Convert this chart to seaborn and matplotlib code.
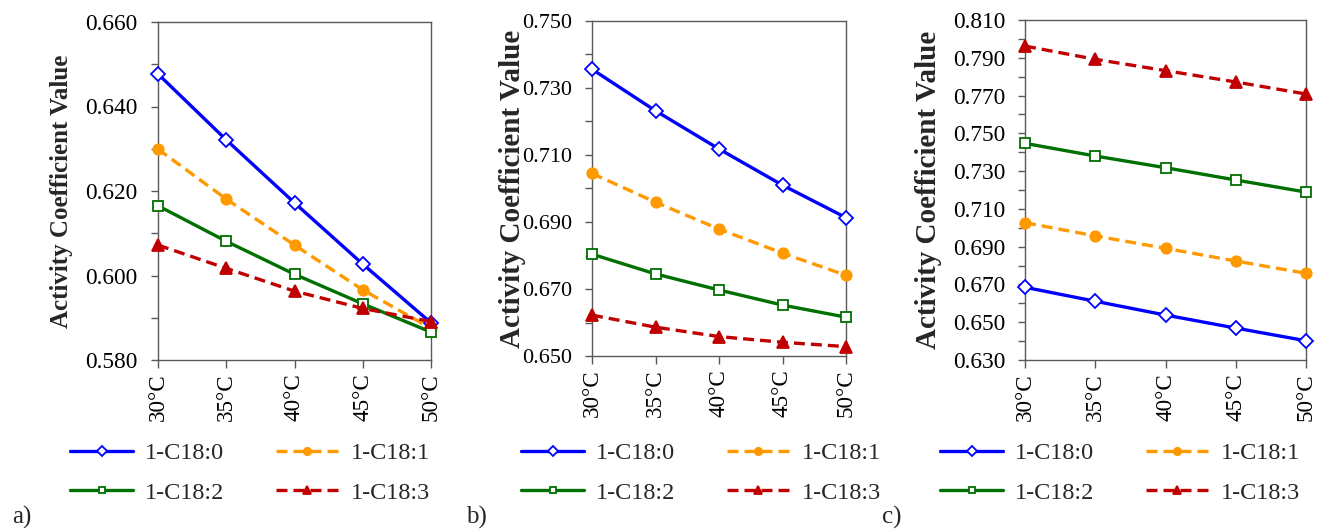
import numpy as np
import pandas as pd
import seaborn as sns
import matplotlib.pyplot as plt
from matplotlib.ticker import FixedLocator

temps = [30, 35, 40, 45, 50]
temp_labels = ["30°C", "35°C", "40°C", "45°C", "50°C"]
series_names = ["1-C18:0", "1-C18:1", "1-C18:2", "1-C18:3"]

# panel a)
a_c180 = [0.6477, 0.6321, 0.6172, 0.6027, 0.5888]
a_c181 = [0.6299, 0.6181, 0.6072, 0.5966, 0.5875]
a_c182 = [0.6165, 0.6081, 0.6003, 0.5933, 0.5866]
a_c183 = [0.6072, 0.6017, 0.5963, 0.5922, 0.5891]
# panel b)
b_c180 = [0.7356, 0.7232, 0.7118, 0.7010, 0.6913]
b_c181 = [0.7045, 0.6959, 0.6879, 0.6807, 0.6741]
b_c182 = [0.6804, 0.6745, 0.6697, 0.6652, 0.6616]
b_c183 = [0.6622, 0.6586, 0.6558, 0.6541, 0.6528]
# panel c)
c_c180 = [0.6685, 0.6611, 0.6538, 0.6469, 0.6402]
c_c181 = [0.7027, 0.6957, 0.6891, 0.6824, 0.6759]
c_c182 = [0.7447, 0.7380, 0.7318, 0.7253, 0.7189]
c_c183 = [0.7962, 0.7892, 0.7832, 0.7772, 0.7708]

# letter, series, y range, ylabel size, tick label size, tick pad
panels = [
    ("a)", [a_c180, a_c181, a_c182, a_c183], (0.580, 0.660), 18, 16.8, 10),
    ("b)", [b_c180, b_c181, b_c182, b_c183], (0.650, 0.750), 21, 15.9, 9),
    ("c)", [c_c180, c_c181, c_c182, c_c183], (0.630, 0.810), 21, 16.8, 9),
]

styles = {
    "1-C18:0": dict(color="#0000FF", ls="-", marker="D", ms=7.5, mfc="white"),
    "1-C18:1": dict(color="#FF9900", ls=(0, (3.3, 1.8)), marker="o", ms=7.5, mfc="#FF9900"),
    "1-C18:2": dict(color="#007000", ls="-", marker="s", ms=7, mfc="white"),
    "1-C18:3": dict(color="#C00000", ls=(0, (3.3, 1.8)), marker="^", ms=8, mfc="#C00000"),
}

sns.set_style("ticks")
plt.rcParams["font.family"] = ["Liberation Serif", "DejaVu Serif"]
plt.rcParams["axes.edgecolor"] = "#595959"
plt.rcParams["xtick.color"] = "#595959"
plt.rcParams["ytick.color"] = "#595959"
plt.rcParams["xtick.labelcolor"] = "black"
plt.rcParams["ytick.labelcolor"] = "black"

fig = plt.figure(figsize=(13.19, 5.29), dpi=100)
W, H = 1319, 529
boxes = [(158, 431, 22, 360), (592, 846, 21, 356), (1025, 1306, 20, 360)]
legend_x = [70, 521, 940]
letter_x = [12, 466, 882]
ylabel_x = [62, 512, 928]

for i, (letter, vals, ylim, lab_size, tick_size, ypad) in enumerate(panels):
    l, r, t, b = boxes[i]
    ax = fig.add_axes([l / W, 1 - b / H, (r - l) / W, (b - t) / H])
    for name, y in zip(series_names, vals):
        st = styles[name]
        sns.lineplot(x=temps, y=y, ax=ax, color=st["color"], linestyle=st["ls"],
                     lw=2.4, marker=st["marker"], markersize=st["ms"],
                     markerfacecolor=st["mfc"], markeredgecolor=st["color"],
                     markeredgewidth=1.3, label=name, clip_on=False, zorder=3)
    ax.set_xlim(30, 50)
    ax.set_ylim(*ylim)
    ax.set_xticks(temps)
    ax.set_xticklabels(temp_labels, rotation=90, fontsize=16.6)
    ax.yaxis.set_major_locator(FixedLocator(np.arange(ylim[0], ylim[1] + 0.001, 0.02)))
    ax.yaxis.set_minor_locator(FixedLocator(np.arange(ylim[0], ylim[1] + 0.001, 0.01)))
    ax.yaxis.set_major_formatter(plt.FuncFormatter(lambda v, p: f"{v:.3f}"))
    ax.tick_params(axis="y", which="both", direction="out", length=5, width=1,
                   labelsize=tick_size, pad=ypad)
    ax.tick_params(axis="x", direction="out", length=5.5, width=1, pad=4)
    for sp in ax.spines.values():
        sp.set_linewidth(1.0)
    ax.set_xlabel("")
    ax.set_ylabel("")
    fig.text(ylabel_x[i] / W, 1 - ((t + b) / 2) / H, "Activity Coefficient Value",
             rotation=90, ha="center", va="center", fontsize=lab_size, fontweight="bold")
    handles, labels = ax.get_legend_handles_labels()
    order = [0, 2, 1, 3]
    ax.legend([handles[k] for k in order], [labels[k] for k in order], ncol=2,
              loc="upper left", bbox_to_anchor=(legend_x[i] / W, 1 - 442 / H),
              bbox_transform=fig.transFigure, frameon=False, fontsize=17.5,
              handlelength=2.6, handletextpad=0.5, columnspacing=2.1,
              labelspacing=0.72, borderpad=0, borderaxespad=0, markerscale=0.7)
    fig.text(letter_x[i] / W, 1 - 517 / H, letter, ha="left", va="center", fontsize=18)

fig.savefig("out.png", dpi=100)
